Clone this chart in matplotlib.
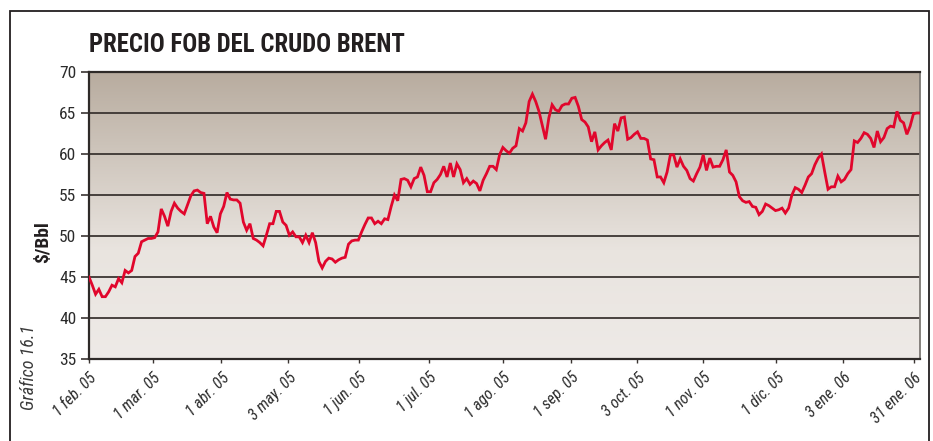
import numpy as np
import matplotlib
matplotlib.use("Agg")
import matplotlib.pyplot as plt
from matplotlib.patches import Rectangle
from matplotlib import font_manager as fm

# Precio FOB diario del crudo Brent, feb. 2005 - ene. 2006 (US$/barril)
precio = [
    45.0, 44.0, 42.9, 43.5, 42.6, 42.6, 43.2, 44.0, 43.8, 44.8,
    44.3, 45.8, 45.5, 45.8, 47.5, 47.9, 49.3, 49.5, 49.7, 49.7,
    49.8, 50.5, 53.3, 52.4, 51.2, 53.0, 54.0, 53.4, 53.0, 52.7,
    53.8, 54.9, 55.5, 55.6, 55.3, 55.2, 51.5, 52.4, 51.1, 50.4,
    52.7, 53.6, 55.3, 54.5, 54.4, 54.4, 54.0, 51.7, 50.7, 51.5,
    49.7, 49.5, 49.2, 48.8, 50.1, 51.5, 51.5, 53.0, 53.0, 51.7,
    51.3, 50.1, 50.5, 49.9, 49.9, 49.2, 50.1, 49.2, 50.4, 49.2,
    46.9, 46.1, 46.9, 47.3, 47.2, 46.8, 47.1, 47.3, 47.4, 49.0,
    49.4, 49.5, 49.5, 50.5, 51.4, 52.2, 52.2, 51.5, 51.8, 51.5,
    52.1, 52.0, 53.6, 55.0, 54.3, 56.9, 57.0, 56.8, 56.0, 57.0,
    57.2, 58.4, 57.4, 55.4, 55.4, 56.5, 56.9, 57.5, 58.5, 57.2,
    58.9, 57.2, 58.8, 58.1, 56.5, 57.0, 56.3, 56.7, 56.4, 55.5,
    56.8, 57.6, 58.5, 58.5, 58.1, 59.9, 60.8, 60.4, 60.1, 60.7,
    61.0, 63.1, 62.8, 63.8, 66.4, 67.3, 66.4, 65.2, 63.5, 61.8,
    64.4, 66.0, 65.4, 65.2, 65.9, 66.1, 66.1, 66.8, 66.9, 65.8,
    64.2, 63.9, 63.3, 61.5, 62.7, 60.5, 61.0, 61.4, 61.7, 60.5,
    63.7, 62.8, 64.4, 64.5, 61.8, 62.0, 62.4, 62.7, 61.9, 61.9,
    61.7, 59.4, 59.3, 57.2, 57.2, 56.5, 57.8, 59.9, 59.9, 58.4,
    59.4, 58.5, 58.0, 57.0, 56.7, 57.6, 58.4, 59.9, 58.0, 59.5,
    58.4, 58.5, 58.5, 59.3, 60.5, 57.8, 57.4, 56.6, 54.8, 54.3,
    54.1, 54.2, 53.6, 53.5, 52.6, 53.0, 53.9, 53.7, 53.4, 53.1,
    53.2, 53.4, 52.8, 53.4, 55.0, 55.9, 55.7, 55.3, 56.2, 57.2,
    57.6, 58.7, 59.5, 60.0, 57.8, 55.7, 56.0, 56.0, 57.3, 56.6,
    56.9, 57.6, 58.1, 61.6, 61.4, 61.9, 62.6, 62.4, 61.9, 60.8,
    62.8, 61.5, 62.0, 63.1, 63.4, 63.3, 65.2, 64.1, 63.8, 62.4,
    63.4, 64.9, 65.0, 65.0,
]

# Fechas rotuladas en el eje horizontal (posición en días hábiles de la serie)
etiquetas_fecha = [
    "1 feb. 05", "1 mar. 05", "1 abr. 05", "3 may. 05", "1 jun. 05",
    "1 jul. 05", "1 ago. 05", "1 sep. 05", "3 oct. 05", "1 nov. 05",
    "1 dic. 05", "3 ene. 06", "31 ene. 06",
]
dia_fecha = [0, 19.5, 40.3, 60.7, 82.1, 103.4, 126.0, 146.7, 166.9,
             187.0, 209.3, 229.7, 251.1]

valores_eje_y = [35, 40, 45, 50, 55, 60, 65, 70]

W, H = 933, 441
fig = plt.figure(figsize=(W / 100, H / 100), dpi=100)
fig.patch.set_facecolor("white")

# Tipografía estrecha: se usa una familia "Narrow/Condensed" si existe,
# si no, DejaVu Sans en su variante condensada.
installed = {f.name for f in fm.fontManager.ttflist}
NARROW = "DejaVu Sans"
for cand in ["Liberation Sans Narrow", "Roboto Condensed", "Open Sans Condensed",
             "Arial Narrow", "DejaVu Sans"]:
    if cand in installed:
        NARROW = cand
        break
STRETCH = "condensed"


def fp(size, weight="normal", style="normal"):
    return fm.FontProperties(family=NARROW, size=size, weight=weight,
                             style=style, stretch=STRETCH)


ax = fig.add_axes([89 / W, 1 - 359 / H, (920 - 89) / W, (359 - 72) / H])

dias = np.arange(len(precio))
x0, x1 = 0, len(precio) - 1
ax.set_xlim(x0, x1)
ax.set_ylim(35, 70)

# Fondo degradado del área de trazado (oscuro arriba, claro abajo)
top = np.array([184, 172, 159]) / 255
mid = np.array([233, 228, 223]) / 255
low = np.array([238, 234, 231]) / 255
n = 300
t = np.linspace(0, 1, n)[:, None]
k = np.clip(t / 0.62, 0, 1)
grad = top * (1 - k) + mid * k
grad = np.where(t > 0.62, mid * (1 - (t - 0.62) / 0.38) + low * ((t - 0.62) / 0.38), grad)
ax.imshow(grad[:, None, :].repeat(2, axis=1), extent=[x0, x1, 35, 70],
          aspect="auto", zorder=0, interpolation="bilinear")

for v in valores_eje_y[1:-1]:
    ax.axhline(v, color="#3b3532", lw=1.3, zorder=1)

ax.plot(dias, precio, color="#e1062c", lw=2.0, zorder=3,
        solid_joinstyle="miter")

for side in ["top", "bottom", "left"]:
    ax.spines[side].set_color("#2e2a28")
    ax.spines[side].set_linewidth(1.6)
ax.spines["right"].set_color("#7d7874")
ax.spines["right"].set_linewidth(1.3)

ax.set_yticks(valores_eje_y)
ax.set_yticklabels([str(v) for v in valores_eje_y])
for lbl in ax.get_yticklabels():
    lbl.set_fontproperties(fp(12.5))
    lbl.set_color("#2b2b2b")
ax.tick_params(axis="y", length=6, width=1.2, color="#3b3532", pad=3)

ax.set_xticks(dia_fecha)
ax.set_xticklabels(etiquetas_fecha, rotation=45, ha="right", va="top",
                   rotation_mode="anchor")
for lbl in ax.get_xticklabels():
    lbl.set_fontproperties(fp(11.5, style="italic"))
    lbl.set_color("#2b2b2b")
ax.tick_params(axis="x", length=3, width=1.0, color="#3b3532", pad=5)

fig.text(89 / W, 1 - 45 / H, "PRECIO FOB DEL CRUDO BRENT",
         fontproperties=fp(17.8, weight="bold"),
         color="#231f20", ha="left", va="center")

fig.text(43 / W, 1 - 242 / H, "$/Bbl", rotation=90,
         fontproperties=fp(14, weight="bold"), color="#231f20",
         ha="center", va="center")

fig.text(29 / W, 1 - 367 / H, "Gráfico 16.1", rotation=90,
         fontproperties=fp(13, style="italic"),
         color="#3a3a3a", ha="center", va="center")

fig.patches.append(Rectangle((9.5 / W, -0.01), (929 - 9.5) / W,
                             1 - 10.5 / H + 0.01, transform=fig.transFigure,
                             fill=False, edgecolor="#231f20", lw=1.3))

fig.savefig("out.png", dpi=100, facecolor="white")
